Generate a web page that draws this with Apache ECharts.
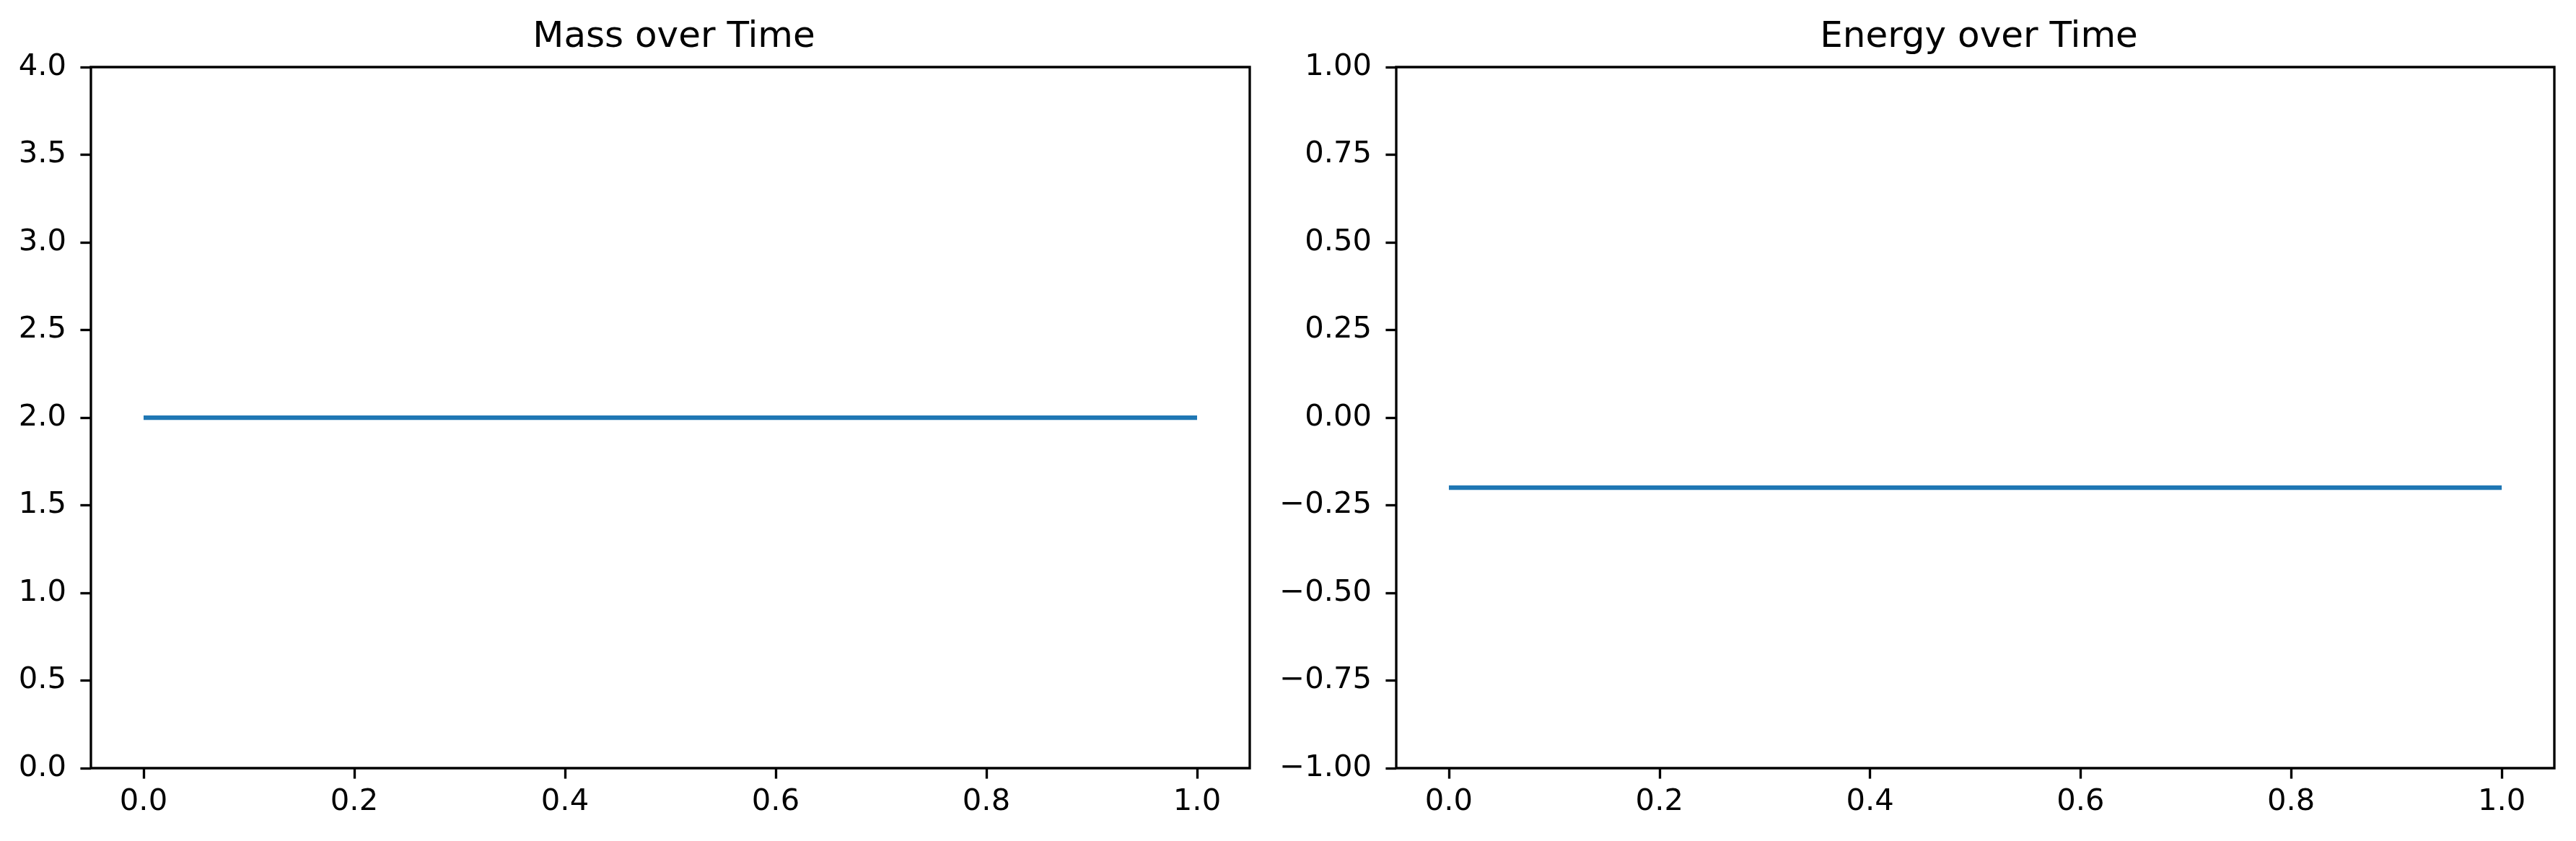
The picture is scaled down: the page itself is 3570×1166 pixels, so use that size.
<!DOCTYPE html>
<html>
<head>
<meta charset="utf-8">
<script src="https://cdn.jsdelivr.net/npm/echarts@6/dist/echarts.min.js"></script>
<style>
html,body{margin:0;padding:0;background:#fff;}
#chart{width:3570px;height:1166px;}
</style>
</head>
<body>
<div id="chart"></div>
<script>
// ---- data ----
const times = [0.0, 0.1, 0.2, 0.3, 0.4, 0.5, 0.6, 0.7, 0.8, 0.9, 1.0];
const massValues = [2.0, 2.0, 2.0, 2.0, 2.0, 2.0, 2.0, 2.0, 2.0, 2.0, 2.0];
const energyValues = [-0.2, -0.2, -0.2, -0.2, -0.2, -0.2, -0.2, -0.2, -0.2, -0.2, -0.2];
const xTicks = [0.0, 0.2, 0.4, 0.6, 0.8, 1.0];
const massTicks = [0.0, 0.5, 1.0, 1.5, 2.0, 2.5, 3.0, 3.5, 4.0];
const energyTicks = [-1.0, -0.75, -0.5, -0.25, 0.0, 0.25, 0.5, 0.75, 1.0];
const titles = ['Mass over Time', 'Energy over Time'];

// ---- chart ----
const FONT = 'DejaVu Sans';
const FS = 41.7;
const LW = 3.33;
const chart = echarts.init(document.getElementById('chart'), null, {renderer: 'canvas'});

function fmt(v, d) {
  const s = Math.abs(v).toFixed(d);
  return (v < -1e-9 ? '\u2212' : '') + s;
}

function xAxis(gi) {
  return {
    type: 'value', gridIndex: gi, min: -0.05, max: 1.05, position: 'bottom',
    axisLine: {show: false, onZero: false},
    splitLine: {show: false},
    axisTick: {show: true, length: 14.6, lineStyle: {color: '#000', width: LW}, customValues: xTicks},
    axisLabel: {show: true, margin: 26, color: '#000', fontFamily: FONT, fontSize: FS,
      customValues: xTicks, formatter: v => fmt(v, 1)}
  };
}
function yAxis(gi, ticks, dec) {
  return {
    type: 'value', gridIndex: gi, min: ticks[0], max: ticks[ticks.length - 1], position: 'left',
    axisLine: {show: false, onZero: false},
    splitLine: {show: false},
    axisTick: {show: true, length: 14.6, lineStyle: {color: '#000', width: LW}, customValues: ticks},
    axisLabel: {show: true, margin: 34, color: '#000', fontFamily: FONT, fontSize: FS,
      customValues: ticks, formatter: v => fmt(v, dec)}
  };
}

const option = {
  animation: false,
  backgroundColor: '#fff',
  title: [
    {text: titles[0], left: 929, top: 22, textAlign: 'center',
      textStyle: {fontFamily: FONT, fontSize: 50, fontWeight: 'normal', color: '#000'}},
    {text: titles[1], left: 2737.5, top: 22, textAlign: 'center',
      textStyle: {fontFamily: FONT, fontSize: 50, fontWeight: 'normal', color: '#000'}}
  ],
  grid: [
    {left: 126, right: 1838, top: 93, bottom: 101, show: true, borderColor: '#000', borderWidth: LW, backgroundColor: 'transparent'},
    {left: 1935, right: 30, top: 93, bottom: 101, show: true, borderColor: '#000', borderWidth: LW, backgroundColor: 'transparent'}
  ],
  xAxis: [xAxis(0), xAxis(1)],
  yAxis: [yAxis(0, massTicks, 1), yAxis(1, energyTicks, 2)],
  series: [
    {type: 'line', xAxisIndex: 0, yAxisIndex: 0, showSymbol: false, symbol: 'none',
      lineStyle: {color: '#1f77b4', width: 6.25}, data: times.map((t, i) => [t, massValues[i]])},
    {type: 'line', xAxisIndex: 1, yAxisIndex: 1, showSymbol: false, symbol: 'none',
      lineStyle: {color: '#1f77b4', width: 6.25}, data: times.map((t, i) => [t, energyValues[i]])}
  ]
};
chart.setOption(option);
</script>
</body>
</html>
